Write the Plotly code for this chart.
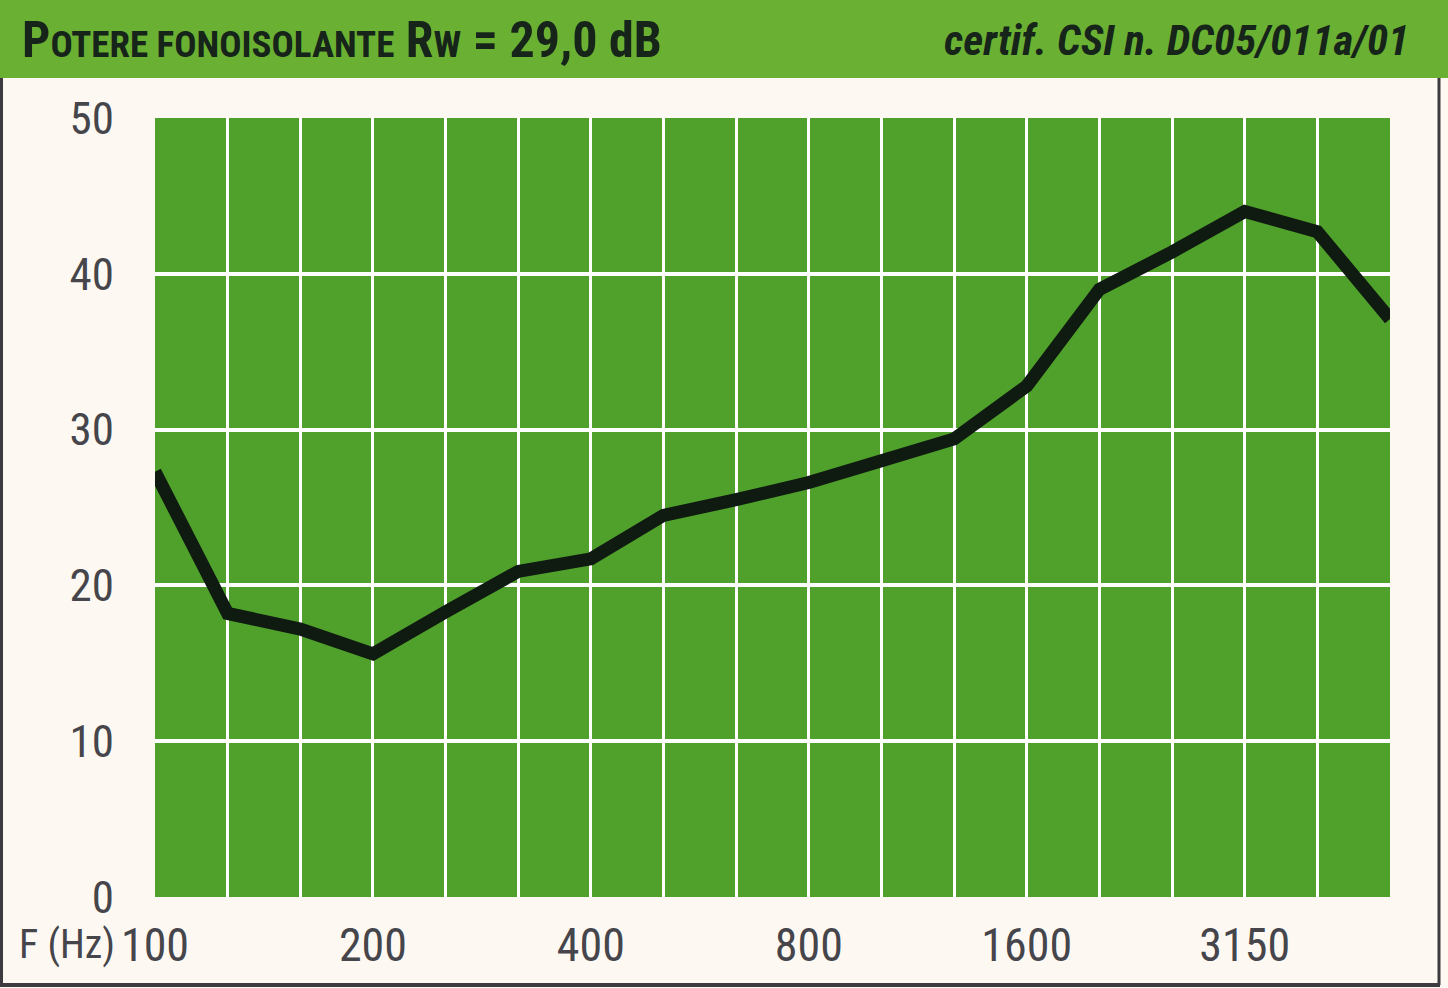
import plotly.graph_objects as go

# ---- data ----
freqs = ["100", "125", "160", "200", "250", "315", "400", "500", "630",
         "800", "1000", "1250", "1600", "2000", "2500", "3150", "4000", "5000"]
rw_values = [27.3, 18.2, 17.2, 15.6, 18.3, 20.9, 21.7, 24.5, 25.5,
             26.6, 28.0, 29.4, 32.8, 39.0, 41.4, 44.0, 42.7, 37.1]
labeled_freqs = ["100", "200", "400", "800", "1600", "3150"]
y_ticks = [0, 10, 20, 30, 40, 50]
title_text = "<b>P<span style='font-size:37px'>OTERE FONOISOLANTE</span> R<span style='font-size:37px'>W</span> = 29,0 dB</b>"
cert_text = "<b><i>certif. CSI n. DC05/011a/01</i></b>"
axis_unit = "F (Hz)"

# ---- geometry ----
W, H = 1448, 988
L, R, T, B = 155, 58, 118, 91
PW, PH = W - L - R, H - T - B

def px(x):
    return (x - L) / PW

def py(y):
    return (H - B - y) / PH

FONT = "Liberation Sans Narrow, Arial Narrow, Roboto Condensed, Liberation Sans, sans-serif"
HEADER_GREEN = "#6ab133"
PLOT_GREEN = "#50a12c"
CREAM = "#fdf9f2"
LABEL_GREY = "#45454b"

idx = list(range(len(freqs)))
tick_idx = [freqs.index(f) for f in labeled_freqs]
minor_idx = idx[1:-1]

fig = go.Figure()
fig.add_trace(go.Scatter(
    x=idx, y=rw_values, mode="lines",
    line=dict(color="#0f1a10", width=13),
    hoverinfo="skip", showlegend=False, cliponaxis=True,
))

fig.update_layout(
    width=W, height=H,
    margin=dict(l=L, r=R, t=T, b=B, pad=0),
    paper_bgcolor=CREAM,
    plot_bgcolor=PLOT_GREEN,
    font=dict(family=FONT, color=LABEL_GREY),
    showlegend=False,
)

fig.update_xaxes(
    range=[0, len(freqs) - 1],
    tickmode="array", tickvals=tick_idx, ticktext=labeled_freqs,
    showgrid=False, zeroline=False, showline=False,
    ticks="", ticklabelstandoff=17,
    tickfont=dict(size=46, family=FONT, color=LABEL_GREY),
    minor=dict(tickmode="array", tickvals=minor_idx, showgrid=True,
               gridcolor="white", gridwidth=3, ticks=""),
)
fig.update_yaxes(
    range=[0, 50],
    tickmode="array", tickvals=y_ticks, ticktext=[str(v) for v in y_ticks],
    showgrid=False, zeroline=False, showline=False,
    ticks="", ticklabelstandoff=40,
    tickfont=dict(size=45, family=FONT, color=LABEL_GREY),
    minor=dict(tickmode="array", tickvals=y_ticks[1:-1], showgrid=True,
               gridcolor="white", gridwidth=4, ticks=""),
)

# header band
fig.add_shape(type="rect", xref="paper", yref="paper",
              x0=px(0), x1=px(W), y0=py(78), y1=py(0),
              fillcolor=HEADER_GREEN, line=dict(width=0), layer="below")
# outer frame
fig.add_shape(type="line", xref="paper", yref="paper",
              x0=px(1439), x1=px(1439), y0=py(78), y1=py(985),
              line=dict(color="#3c3c40", width=3))
fig.add_shape(type="line", xref="paper", yref="paper",
              x0=px(1.5), x1=px(1.5), y0=py(78), y1=py(985),
              line=dict(color="#3c3c40", width=3))
fig.add_shape(type="line", xref="paper", yref="paper",
              x0=px(0), x1=px(1440), y0=py(985), y1=py(985),
              line=dict(color="#3c3c40", width=4))

fig.add_annotation(text=title_text, xref="paper", yref="paper",
                   x=px(20), y=py(40), xanchor="left", yanchor="middle",
                   showarrow=False,
                   font=dict(size=50, family=FONT, color="#16241a"))
fig.add_annotation(text=cert_text, xref="paper", yref="paper",
                   x=px(1411), y=py(40), xanchor="right", yanchor="middle",
                   showarrow=False,
                   font=dict(size=43, family=FONT, color="#16241a"))
fig.add_annotation(text=axis_unit, xref="paper", yref="paper",
                   x=px(17), y=py(945), xanchor="left", yanchor="middle",
                   showarrow=False,
                   font=dict(size=40, family=FONT, color=LABEL_GREY))

fig.write_html("out.html",
               config={"displayModeBar": False},
               post_script="document.body.style.margin='0';document.body.style.overflow='hidden';")
